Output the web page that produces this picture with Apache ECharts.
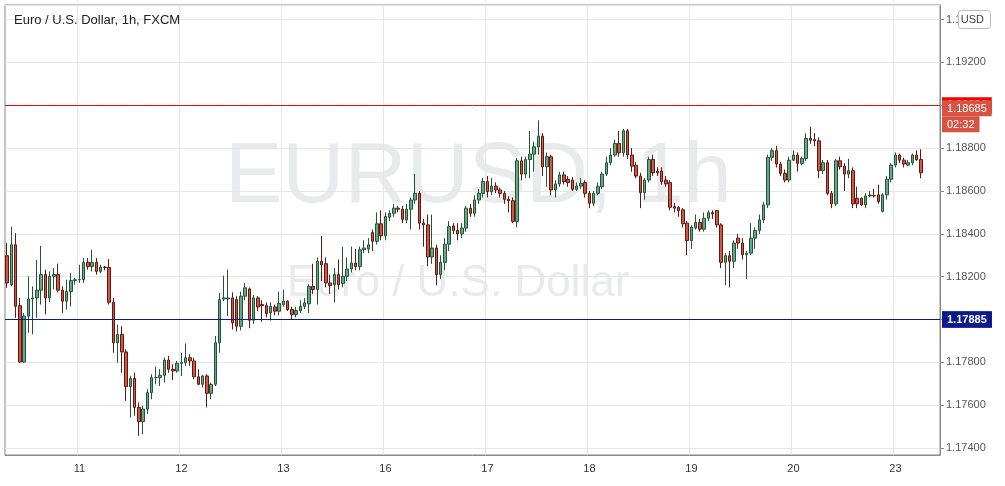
<!DOCTYPE html>
<html><head><meta charset="utf-8">
<script src="https://cdn.jsdelivr.net/npm/echarts@6/dist/echarts.min.js"></script>
<style>html,body{margin:0;padding:0;background:#fff}#c{width:1005px;height:486px}</style>
</head><body><div id="c"></div>
<script>
// hourly candles: [open, close, low, high]
const ohlc = [
[1.18298,1.18171,1.18148,1.18357],[1.18163,1.18349,1.18155,1.18434],[1.18349,1.18062,1.18008,1.18403],[1.18065,1.17802,1.17799,1.18101],
[1.17802,1.18016,1.17799,1.18031],[1.18016,1.18096,1.17938,1.18202],[1.18096,1.18101,1.17931,1.18155],[1.18101,1.18137,1.18008,1.18279],
[1.18137,1.18210,1.18070,1.18344],[1.18210,1.18101,1.18024,1.18233],[1.18101,1.18202,1.18081,1.18225],[1.18202,1.18210,1.18140,1.18241],
[1.18210,1.18137,1.18127,1.18261],[1.18137,1.18086,1.18031,1.18155],[1.18086,1.18131,1.18047,1.18186],[1.18131,1.18182,1.18062,1.18217],
[1.18182,1.18186,1.18163,1.18194],[1.18186,1.18187,1.18171,1.18256],[1.18186,1.18267,1.18171,1.18287],[1.18267,1.18248,1.18233,1.18287],
[1.18248,1.18267,1.18225,1.18326],[1.18267,1.18225,1.18210,1.18287],[1.18225,1.18245,1.18217,1.18256],[1.18245,1.18243,1.18230,1.18250],
[1.18243,1.18081,1.18070,1.18282],[1.18081,1.17892,1.17845,1.18101],[1.17892,1.17931,1.17799,1.17977],[1.17931,1.17849,1.17752,1.17969],
[1.17849,1.17687,1.17621,1.17861],[1.17687,1.17725,1.17543,1.17737],[1.17725,1.17590,1.17551,1.17752],[1.17590,1.17524,1.17458,1.17613],
[1.17524,1.17582,1.17466,1.17598],[1.17582,1.17659,1.17559,1.17675],[1.17659,1.17729,1.17628,1.17745],[1.17729,1.17730,1.17698,1.17780],
[1.17729,1.17740,1.17690,1.17768],[1.17740,1.17811,1.17706,1.17822],[1.17811,1.17768,1.17752,1.17830],[1.17768,1.17760,1.17718,1.17791],
[1.17760,1.17796,1.17752,1.17807],[1.17796,1.17799,1.17737,1.17845],[1.17799,1.17822,1.17784,1.17889],[1.17822,1.17807,1.17784,1.17838],
[1.17807,1.17733,1.17721,1.17822],[1.17733,1.17698,1.17694,1.17768],[1.17698,1.17737,1.17683,1.17740],[1.17737,1.17656,1.17590,1.17745],
[1.17656,1.17698,1.17628,1.17706],[1.17698,1.17892,1.17690,1.17923],[1.17892,1.18093,1.17845,1.18124],[1.18096,1.18101,1.18086,1.18205],
[1.18096,1.18101,1.18016,1.18233],[1.18101,1.17985,1.17954,1.18127],
[1.18093,1.17969,1.17945,1.18109],[1.17969,1.18109,1.17950,1.18130],[1.18109,1.18148,1.18090,1.18170],[1.18143,1.17997,1.17960,1.18150],
[1.17997,1.18101,1.17980,1.18115],[1.18101,1.18059,1.18040,1.18110],[1.18070,1.18065,1.17990,1.18090],[1.18065,1.18028,1.18010,1.18080],
[1.18031,1.18062,1.17995,1.18080],[1.18059,1.18039,1.18020,1.18070],[1.18039,1.18075,1.18020,1.18130],[1.18070,1.18086,1.18060,1.18140],
[1.18086,1.18047,1.18040,1.18090],[1.18047,1.18024,1.18000,1.18060],[1.18024,1.18042,1.18010,1.18060],[1.18042,1.18062,1.18030,1.18090],
[1.18062,1.18078,1.18050,1.18100],[1.18073,1.18155,1.18030,1.18165],[1.18155,1.18140,1.18120,1.18260],[1.18140,1.18272,1.18070,1.18290],
[1.18272,1.18256,1.18180,1.18390],[1.18261,1.18171,1.18150,1.18290],[1.18171,1.18158,1.18120,1.18210],[1.18163,1.18210,1.18080,1.18240],
[1.18210,1.18163,1.18140,1.18280],[1.18168,1.18202,1.18150,1.18340],[1.18202,1.18236,1.18180,1.18290],[1.18236,1.18264,1.18220,1.18340],
[1.18264,1.18248,1.18230,1.18330],[1.18248,1.18326,1.18230,1.18340],[1.18326,1.18334,1.18310,1.18370],[1.18329,1.18349,1.18310,1.18380],
[1.18406,1.18365,1.18320,1.18420],[1.18365,1.18447,1.18350,1.18500],[1.18447,1.18391,1.18370,1.18510],[1.18391,1.18481,1.18370,1.18500],
[1.18478,1.18496,1.18460,1.18510],[1.18496,1.18520,1.18480,1.18540],[1.18520,1.18515,1.18500,1.18530],[1.18515,1.18468,1.18450,1.18530],
[1.18465,1.18515,1.18450,1.18540],[1.18515,1.18558,1.18420,1.18570],[1.18558,1.18589,1.18540,1.18680],[1.18589,1.18450,1.18420,1.18600],
[1.18450,1.18442,1.18340,1.18470],[1.18442,1.18292,1.18250,1.18490],[1.18292,1.18334,1.18260,1.18490],[1.18334,1.18210,1.18160,1.18350],
[1.18210,1.18267,1.18190,1.18300],[1.18267,1.18352,1.18230,1.18380],[1.18352,1.18434,1.18320,1.18460],[1.18437,1.18416,1.18400,1.18450],
[1.18416,1.18400,1.18370,1.18450],[1.18400,1.18427,1.18380,1.18450],[1.18427,1.18520,1.18410,1.18530],[1.18520,1.18496,1.18480,1.18540],
[1.18496,1.18558,1.18480,1.18580],[1.18558,1.18589,1.18540,1.18610],[1.18589,1.18644,1.18570,1.18660],
[1.18644,1.18597,1.18570,1.18670],[1.18597,1.18623,1.18580,1.18660],[1.18623,1.18605,1.18590,1.18640],[1.18605,1.18589,1.18570,1.18615],
[1.18589,1.18561,1.18540,1.18600],[1.18561,1.18555,1.18500,1.18575],[1.18555,1.18458,1.18450,1.18570],[1.18458,1.18741,1.18430,1.18755],
[1.18741,1.18679,1.18650,1.18760],[1.18679,1.18747,1.18660,1.18760],[1.18747,1.18772,1.18660,1.18880],[1.18772,1.18806,1.18690,1.18830],
[1.18806,1.18856,1.18770,1.18930],[1.18856,1.18713,1.18670,1.18870],[1.18713,1.18760,1.18620,1.18780],[1.18760,1.18605,1.18580,1.18770],
[1.18605,1.18633,1.18570,1.18650],[1.18633,1.18675,1.18620,1.18690],[1.18675,1.18644,1.18630,1.18690],[1.18654,1.18639,1.18620,1.18670],
[1.18651,1.18608,1.18600,1.18665],[1.18608,1.18623,1.18600,1.18640],[1.18623,1.18636,1.18610,1.18660],[1.18639,1.18589,1.18570,1.18650],
[1.18589,1.18543,1.18520,1.18600],[1.18543,1.18589,1.18530,1.18600],[1.18589,1.18620,1.18580,1.18640],[1.18620,1.18679,1.18610,1.18690],
[1.18679,1.18732,1.18670,1.18760],[1.18732,1.18768,1.18720,1.18800],[1.18768,1.18822,1.18760,1.18840],[1.18822,1.18778,1.18760,1.18880],
[1.18778,1.18881,1.18760,1.18890],[1.18881,1.18768,1.18750,1.18890],[1.18768,1.18716,1.18690,1.18800],[1.18720,1.18670,1.18660,1.18735],
[1.18670,1.18592,1.18520,1.18685],[1.18592,1.18651,1.18560,1.18660],[1.18651,1.18747,1.18640,1.18760],[1.18747,1.18685,1.18670,1.18770],
[1.18693,1.18685,1.18670,1.18710],[1.18693,1.18644,1.18630,1.18710],[1.18651,1.18633,1.18620,1.18670],[1.18639,1.18524,1.18510,1.18650],
[1.18527,1.18520,1.18500,1.18545],[1.18523,1.18509,1.18480,1.18530],[1.18512,1.18447,1.18430,1.18520],[1.18450,1.18369,1.18300,1.18460],
[1.18369,1.18431,1.18330,1.18440],[1.18427,1.18453,1.18420,1.18490],[1.18453,1.18422,1.18410,1.18470],[1.18422,1.18473,1.18410,1.18500],
[1.18473,1.18499,1.18460,1.18510],[1.18499,1.18493,1.18470,1.18510],[1.18509,1.18442,1.18430,1.18510],[1.18442,1.18267,1.18240,1.18450],
[1.18267,1.18298,1.18160,1.18310],[1.18298,1.18272,1.18150,1.18320],[1.18272,1.18357,1.18240,1.18370],[1.18380,1.18357,1.18330,1.18400],
[1.18357,1.18303,1.18280,1.18380],[1.18303,1.18310,1.18190,1.18320],[1.18310,1.18380,1.18300,1.18450],[1.18380,1.18416,1.18330,1.18430],
[1.18416,1.18465,1.18400,1.18490],[1.18465,1.18535,1.18450,1.18550],[1.18535,1.18757,1.18520,1.18770],[1.18757,1.18788,1.18740,1.18800],
[1.18788,1.18726,1.18710,1.18810],[1.18726,1.18682,1.18670,1.18735],[1.18682,1.18651,1.18640,1.18700],[1.18651,1.18744,1.18640,1.18760],
[1.18744,1.18768,1.18740,1.18790],[1.18768,1.18729,1.18690,1.18780],[1.18729,1.18752,1.18720,1.18760],[1.18752,1.18845,1.18740,1.18870],
[1.18845,1.18837,1.18820,1.18900],[1.18840,1.18834,1.18810,1.18870],[1.18834,1.18695,1.18660,1.18850],[1.18695,1.18732,1.18680,1.18745],
[1.18732,1.18589,1.18580,1.18745],[1.18589,1.18540,1.18520,1.18600],[1.18540,1.18741,1.18530,1.18750],[1.18741,1.18713,1.18700,1.18760],
[1.18716,1.18679,1.18600,1.18730],[1.18679,1.18695,1.18660,1.18750],[1.18695,1.18540,1.18520,1.18710],[1.18566,1.18540,1.18520,1.18620],
[1.18566,1.18535,1.18530,1.18570],[1.18535,1.18577,1.18520,1.18590],[1.18577,1.18581,1.18570,1.18600],[1.18578,1.18577,1.18570,1.18610],
[1.18582,1.18551,1.18540,1.18630],[1.18505,1.18582,1.18500,1.18590],[1.18582,1.18655,1.18560,1.18670],[1.18655,1.18721,1.18640,1.18730],
[1.18721,1.18768,1.18710,1.18780],[1.18768,1.18744,1.18730,1.18775],[1.18744,1.18726,1.18710,1.18755],[1.18721,1.18732,1.18715,1.18745],
[1.18732,1.18768,1.18720,1.18775],[1.18768,1.18747,1.18740,1.18790],[1.18747,1.18685,1.18660,1.18795]
];
const emptySlots = 4;
const dayTickIndex = [17, 41, 65, 89, 113, 137, 161, 185, 209];
const dayTickLabels = ['11', '12', '13', '16', '17', '18', '19', '20', '23'];
const levelValues = [1.19286, 1.18408, 1.18146, 1.17885, 1.17452];
const levelColors = ['#f00000', '#0b1b8f', '#0b1b8f', '#0b1b8f', '#0b1b8f'];
const currentPrice = 1.18685;
const countdown = '02:32';

const total = ohlc.length + emptySlots;
const cats = Array.from({length: total}, (_, i) => String(i));
const labelOf = {};
dayTickIndex.forEach((v, i) => labelOf[v] = dayTickLabels[i]);
const isDay = (i) => labelOf[i] !== undefined;
const font = 'Liberation Sans, Arial';

const markData = levelValues.map((v, i) => ({
  yAxis: v,
  lineStyle: {color: levelColors[i], width: 1, type: 'solid'},
  label: {show: true, position: 'end', distance: 2, formatter: v.toFixed(5),
    color: '#fff', backgroundColor: levelColors[i], padding: [3, 5, 2, 5], fontSize: 11, fontFamily: font, fontWeight: 'bold'}
}));
markData.push({
  yAxis: currentPrice,
  lineStyle: {color: '#c0392b', width: 1, type: [1, 2]},
  label: {show: true, position: 'end', distance: 2,
    formatter: '{a|' + currentPrice.toFixed(5) + '}\n{b|' + countdown + '}',
    rich: {
      a: {color: '#fff', backgroundColor: '#d75442', padding: [3, 5, 2, 5], fontSize: 11, fontFamily: font},
      b: {color: '#fff', backgroundColor: '#d75442', padding: [3, 5, 2, 5], fontSize: 11, fontFamily: font}
    }, padding: [22, 0, 0, 0]}
});

const chart = echarts.init(document.getElementById('c'), null, {renderer: 'canvas'});
chart.setOption({
  animation: false,
  backgroundColor: '#fff',
  graphic: [
    {type: 'text', left: 225, top: 135, z: 0, style: {text: 'EURUSD, 1h', fontSize: 86, fill: 'rgba(120,123,134,0.16)', fontFamily: font}},
    {type: 'text', left: 287, top: 262, z: 0, style: {text: 'Euro / U.S. Dollar', fontSize: 44, fill: 'rgba(120,123,134,0.16)', fontFamily: font}},
    {type: 'text', left: 14, top: 14, z: 10, style: {text: 'Euro / U.S. Dollar, 1h, FXCM', fontSize: 13, fill: '#222', fontFamily: font}},
    {type: 'rect', right: 14, top: 10, z: 10, shape: {width: 32, height: 18, r: 3}, style: {fill: '#fff', stroke: '#bbb'}},
    {type: 'text', right: 21, top: 14, z: 11, style: {text: 'USD', fontSize: 11, fill: '#444', fontFamily: font}}
  ],
  grid: {left: 5, right: 65, top: 5, bottom: 31, show: true, borderColor: '#888', borderWidth: 1},
  xAxis: {
    type: 'category', data: cats, boundaryGap: true,
    axisLine: {lineStyle: {color: '#888'}},
    axisTick: {show: false},
    axisLabel: {interval: (i) => isDay(i), formatter: (v, i) => labelOf[i] || '', color: '#333', fontSize: 11, margin: 8, fontFamily: font},
    splitLine: {show: true, interval: (i) => isDay(i), lineStyle: {color: '#e6e6e6'}}
  },
  yAxis: {
    type: 'value', position: 'right', min: 1.17368, max: 1.19468, scale: true,
    minInterval: 0.002, maxInterval: 0.002, splitNumber: 10,
    axisLine: {show: true, lineStyle: {color: '#888'}},
    axisTick: {show: true, length: 4, lineStyle: {color: '#888'}},
    axisLabel: {showMinLabel: false, showMaxLabel: false, formatter: (v) => v.toFixed(5), color: '#555', fontSize: 11, margin: 6, fontFamily: font},
    splitLine: {show: true, lineStyle: {color: '#e6e6e6'}}
  },
  series: [{
    type: 'candlestick',
    data: ohlc,
    barWidth: 3,
    itemStyle: {color: '#6ba583', color0: '#d75442', borderColor: '#225437', borderColor0: '#5b1a13', borderWidth: 1}
  }, {
    type: 'line',
    data: [],
    symbol: 'none',
    markLine: {symbol: 'none', silent: true, animation: false, data: markData}
  }]
});
</script>
</body></html>
